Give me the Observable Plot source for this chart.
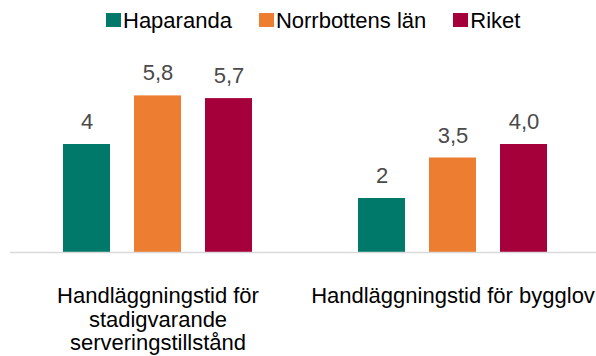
<!DOCTYPE html>
<html>
<head>
<meta charset="utf-8">
<script src="https://cdn.jsdelivr.net/npm/d3@7"></script>
<script src="https://cdn.jsdelivr.net/npm/@observablehq/plot@0.6"></script>
<style>
  html, body { margin: 0; padding: 0; background: #fff; }
  body { width: 596px; height: 356px; overflow: hidden; font-family: "Liberation Sans", Arial, sans-serif; }
  .legend { display: flex; align-items: center; height: 40px; padding-top: 1px; padding-left: 106px; box-sizing: border-box; font-size: 22px; color: #000; line-height: 22px; }
  .legend .item { display: flex; align-items: center; margin-right: 27px; }
  .legend .sw { width: 15px; height: 14px; margin-right: 2px; transform: translateY(-1px); }
  #chart svg { display: block; overflow: hidden; }
</style>
</head>
<body>
<div class="legend" id="legend"></div>
<div id="chart"></div>
<script>
// Categories and their wrapped tick labels
const categories = ["serveringstillstånd", "bygglov"];
const categoryLabels = ["Handläggningstid för\nstadigvarande\nserveringstillstånd", "Handläggningstid för bygglov"];

// Series and colours
const series = ["Haparanda", "Norrbottens län", "Riket"];
const colors = ["#00796b", "#ed7d31", "#a6003a"];

// Processing times (days), written as printed
const haparanda = ["4", "2"];
const norrbotten = ["5,8", "3,5"];
const riket = ["5,7", "4,0"];

const seriesValues = [haparanda, norrbotten, riket];
const rows = [];
categories.forEach((c, ci) => {
  series.forEach((s, si) => {
    const label = seriesValues[si][ci];
    rows.push({category: c, series: s, label, value: +label.replace(",", ".")});
  });
});

// Legend
const legend = document.getElementById("legend");
series.forEach((s, i) => {
  const item = document.createElement("div");
  item.className = "item";
  const sw = document.createElement("span");
  sw.className = "sw";
  sw.style.background = colors[i];
  const t = document.createElement("span");
  t.textContent = s;
  item.append(sw, t);
  legend.append(item);
});

const chart = Plot.plot({
  width: 596,
  height: 316,
  marginLeft: 9,
  marginRight: -4,
  marginTop: 23,
  marginBottom: 104,
  style: {fontFamily: '"Liberation Sans", Arial, sans-serif', background: "#fff"},
  fx: {domain: categories, padding: 0, label: null},
  x: {domain: series, paddingInner: 0.343, paddingOuter: 0.738, axis: null},
  y: {domain: [0, 7], axis: null},
  color: {domain: series, range: colors},
  marks: [
    Plot.barY(rows, {fx: "category", x: "series", y: "value", fill: "series"}),
    Plot.ruleY([0], {stroke: "#d9d9d9", strokeWidth: 1.3}),
    Plot.text(rows, {fx: "category", x: "series", y: "value", text: "label",
      lineAnchor: "bottom", dy: -15.5, fontSize: 22, fill: "#4a4a4a"}),
    Plot.axisFx({anchor: "bottom", tickSize: 0, tickPadding: 33, fontSize: 22,
      lineHeight: 1.09, fill: "#000", label: null,
      tickFormat: (d) => categoryLabels[categories.indexOf(d)]})
  ]
});
document.getElementById("chart").append(chart);
</script>
</body>
</html>
